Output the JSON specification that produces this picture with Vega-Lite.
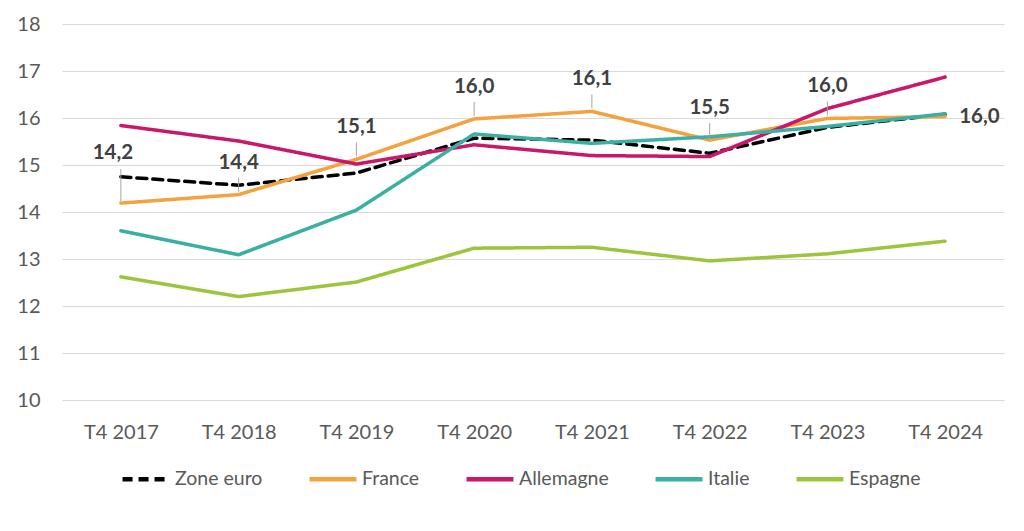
{
  "$schema": "https://vega.github.io/schema/vega-lite/v6.json",
  "width": 942,
  "height": 376,
  "autosize": {"type": "none"},
  "padding": {"left": 62, "top": 24, "right": 20, "bottom": 131},
  "background": "white",
  "config": {
    "view": {"stroke": null},
    "locale": {"number": {"decimal": ",", "thousands": " ", "grouping": [3], "currency": ["", " €"]}},
    "font": "Lato",
    "axis": {"labelFont": "Lato", "labelFontSize": 20, "labelColor": "#595959"},
    "legend": {"labelFont": "Lato", "labelFontSize": 19.5, "labelColor": "#595959"}
  },
  "data": {
    "values": [
      {"periode": "T4 2017", "serie": "Zone euro", "valeur": 14.75},
      {"periode": "T4 2018", "serie": "Zone euro", "valeur": 14.57},
      {"periode": "T4 2019", "serie": "Zone euro", "valeur": 14.83},
      {"periode": "T4 2020", "serie": "Zone euro", "valeur": 15.57},
      {"periode": "T4 2021", "serie": "Zone euro", "valeur": 15.53},
      {"periode": "T4 2022", "serie": "Zone euro", "valeur": 15.25},
      {"periode": "T4 2023", "serie": "Zone euro", "valeur": 15.8},
      {"periode": "T4 2024", "serie": "Zone euro", "valeur": 16.08},
      {"periode": "T4 2017", "serie": "France", "valeur": 14.19},
      {"periode": "T4 2018", "serie": "France", "valeur": 14.37},
      {"periode": "T4 2019", "serie": "France", "valeur": 15.12},
      {"periode": "T4 2020", "serie": "France", "valeur": 15.98},
      {"periode": "T4 2021", "serie": "France", "valeur": 16.14},
      {"periode": "T4 2022", "serie": "France", "valeur": 15.53},
      {"periode": "T4 2023", "serie": "France", "valeur": 15.99},
      {"periode": "T4 2024", "serie": "France", "valeur": 16.03},
      {"periode": "T4 2017", "serie": "Allemagne", "valeur": 15.84},
      {"periode": "T4 2018", "serie": "Allemagne", "valeur": 15.51},
      {"periode": "T4 2019", "serie": "Allemagne", "valeur": 15.02},
      {"periode": "T4 2020", "serie": "Allemagne", "valeur": 15.43},
      {"periode": "T4 2021", "serie": "Allemagne", "valeur": 15.2},
      {"periode": "T4 2022", "serie": "Allemagne", "valeur": 15.18},
      {"periode": "T4 2023", "serie": "Allemagne", "valeur": 16.2},
      {"periode": "T4 2024", "serie": "Allemagne", "valeur": 16.87},
      {"periode": "T4 2017", "serie": "Italie", "valeur": 13.6},
      {"periode": "T4 2018", "serie": "Italie", "valeur": 13.09},
      {"periode": "T4 2019", "serie": "Italie", "valeur": 14.04},
      {"periode": "T4 2020", "serie": "Italie", "valeur": 15.66},
      {"periode": "T4 2021", "serie": "Italie", "valeur": 15.46},
      {"periode": "T4 2022", "serie": "Italie", "valeur": 15.6},
      {"periode": "T4 2023", "serie": "Italie", "valeur": 15.82},
      {"periode": "T4 2024", "serie": "Italie", "valeur": 16.09},
      {"periode": "T4 2017", "serie": "Espagne", "valeur": 12.62},
      {"periode": "T4 2018", "serie": "Espagne", "valeur": 12.2},
      {"periode": "T4 2019", "serie": "Espagne", "valeur": 12.51},
      {"periode": "T4 2020", "serie": "Espagne", "valeur": 13.23},
      {"periode": "T4 2021", "serie": "Espagne", "valeur": 13.25},
      {"periode": "T4 2022", "serie": "Espagne", "valeur": 12.96},
      {"periode": "T4 2023", "serie": "Espagne", "valeur": 13.11},
      {"periode": "T4 2024", "serie": "Espagne", "valeur": 13.38}
    ]
  },
  "encoding": {
    "x": {
      "field": "periode", "type": "ordinal",
      "scale": {"type": "point", "padding": 0.5},
      "axis": {"title": null, "labelAngle": 0, "domain": false, "ticks": false, "labelPadding": 22, "grid": false}
    },
    "y": {
      "field": "valeur", "type": "quantitative",
      "scale": {"domain": [10, 18], "nice": false, "zero": false},
      "axis": {"title": null, "values": [10, 11, 12, 13, 14, 15, 16, 17, 18], "domain": false, "ticks": false, "labelPadding": 22, "gridColor": "#D9D9D9", "gridWidth": 1.2, "format": "d"}
    }
  },
  "layer": [
    {
      "mark": {"type": "line", "strokeWidth": 3.5, "strokeCap": "round"},
      "encoding": {
        "color": {
          "field": "serie", "type": "nominal",
          "scale": {"domain": ["Zone euro", "France", "Allemagne", "Italie", "Espagne"], "range": ["#000000", "#F4A23F", "#C9176A", "#3AAFA3", "#9BC53D"]},
          "legend": {
            "title": null, "orient": "none", "direction": "horizontal", "legendX": 58, "legendY": 429,
            "symbolType": "stroke", "symbolSize": 2200, "symbolStrokeWidth": 4.5, "labelOffset": 3, "columnPadding": 37
          }
        },
        "strokeDash": {
          "field": "serie", "type": "nominal",
          "scale": {"domain": ["Zone euro", "France", "Allemagne", "Italie", "Espagne"], "range": [[10, 6], [1, 0], [1, 0], [1, 0], [1, 0]]},
          "legend": {
            "title": null, "orient": "none", "direction": "horizontal", "legendX": 58, "legendY": 429,
            "symbolType": "stroke", "symbolSize": 2200, "symbolStrokeWidth": 4.5, "labelOffset": 3, "columnPadding": 37
          }
        }
      }
    },
    {
      "transform": [{"filter": "datum.serie == 'France' && datum.periode != 'T4 2024' && datum.periode != 'T4 2017'"}],
      "mark": {"type": "rule", "color": "#A6A6A6", "strokeWidth": 1, "yOffset": -3, "y2Offset": -17},
      "encoding": {"y2": {"field": "valeur"}}
    },
    {
      "transform": [{"filter": "datum.serie == 'France' && datum.periode == 'T4 2017'"}],
      "mark": {"type": "rule", "color": "#A6A6A6", "strokeWidth": 1, "yOffset": -2, "y2Offset": -34},
      "encoding": {"y2": {"field": "valeur"}}
    },
    {
      "transform": [{"filter": "datum.serie == 'France' && datum.periode != 'T4 2024' && datum.periode != 'T4 2017'"}],
      "mark": {"type": "text", "dy": -32, "baseline": "middle", "fontWeight": "bold", "fontSize": 20.5, "color": "#404040", "font": "Lato"},
      "encoding": {"text": {"field": "valeur", "type": "quantitative", "format": ".1f"}}
    },
    {
      "transform": [{"filter": "datum.serie == 'France' && datum.periode == 'T4 2017'"}],
      "mark": {"type": "text", "dy": -50, "dx": -8, "baseline": "middle", "fontWeight": "bold", "fontSize": 20.5, "color": "#404040", "font": "Lato"},
      "encoding": {"text": {"field": "valeur", "type": "quantitative", "format": ".1f"}}
    },
    {
      "transform": [{"filter": "datum.serie == 'France' && datum.periode == 'T4 2024'"}],
      "mark": {"type": "text", "dx": 14, "align": "left", "baseline": "middle", "fontWeight": "bold", "fontSize": 20.5, "color": "#404040", "font": "Lato"},
      "encoding": {"text": {"field": "valeur", "type": "quantitative", "format": ".1f"}}
    }
  ]
}
